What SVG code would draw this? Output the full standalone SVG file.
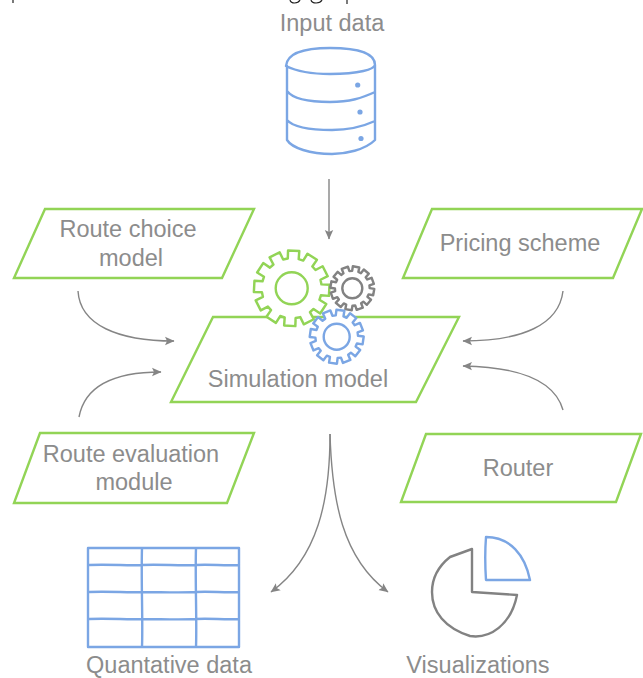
<svg xmlns="http://www.w3.org/2000/svg" width="643" height="678" viewBox="0 0 643 678">
  <style>
    text { font-family: "Liberation Sans", Arial, sans-serif; font-size: 23.5px; fill: #8c8c8c; text-anchor: middle; }
    .box { fill: #ffffff; stroke: #92d456; stroke-width: 2.4; }
    .blue { fill: none; stroke: #7ba6e4; stroke-width: 2.4; stroke-linejoin: round; stroke-linecap: round; }
    .gray { fill: none; stroke: #828282; stroke-width: 2.4; stroke-linejoin: round; }
    .conn { fill: none; stroke: #858585; stroke-width: 1.4; marker-end: url(#arrow); }
    .gear { stroke-linejoin: round; fill: #ffffff; }
    .hole { stroke-width: 2.4; fill: none; }
    .crop { fill: none; stroke: #222222; stroke-width: 1.2; }
  </style>
  <defs>
    <marker id="arrow" markerUnits="userSpaceOnUse" markerWidth="11" markerHeight="10" refX="9" refY="5" orient="auto">
      <path d="M0 0.8L9.5 5L0 9.2L2 5Z" fill="#858585"/>
    </marker>
    <path id="gearShape" d="M77.7 -14.4L98.9 -14.8L98.9 14.8L77.7 14.4L74.5 26.4L93 36.7L78.3 62.3L60.1 51.3L51.3 60.1L62.3 78.3L36.7 93L26.4 74.5L14.4 77.7L14.8 98.9L-14.8 98.9L-14.4 77.7L-26.4 74.5L-36.7 93L-62.3 78.3L-51.3 60.1L-60.1 51.3L-78.3 62.3L-93 36.7L-74.5 26.4L-77.7 14.4L-98.9 14.8L-98.9 -14.8L-77.7 -14.4L-74.5 -26.4L-93 -36.7L-78.3 -62.3L-60.1 -51.3L-51.3 -60.1L-62.3 -78.3L-36.7 -93L-26.4 -74.5L-14.4 -77.7L-14.8 -98.9L14.8 -98.9L14.4 -77.7L26.4 -74.5L36.7 -93L62.3 -78.3L51.3 -60.1L60.1 -51.3L78.3 -62.3L93 -36.7L74.5 -26.4Z"/>
  </defs>

  <g id="cropped-line">
    <path class="crop" d="M13 0V3M290 0C291 4 298 4 300 0M311 0C312 4 320 4 322 0M347 0V4"/>
  </g>

  <g id="connectors">
    <path class="conn" d="M329 179V239"/>
    <path class="conn" d="M78 291C80 325 118 341 174 341"/>
    <path class="conn" d="M563 291C559 325 522 341 463 341"/>
    <path class="conn" d="M79 417C85 385 115 372 161 372"/>
    <path class="conn" d="M563 410C555 382 522 367 463 366"/>
    <path class="conn" d="M330 434C330 500 318 558 271 592"/>
    <path class="conn" d="M330 434C332 500 342 558 388 592"/>
  </g>

  <g id="input-data">
    <text x="332" y="31">Input data</text>
    <path class="blue" d="M286 66C287 54 302 48 330 48C358 48 375 53 375 65C374 69 360 74 330 74C312 74 296 71 286 66ZM287 66V140C292 148 310 154 332 154C345 154 365 150 375 140V65M287 91C293 99 308 102 330 102C350 102 362 98 375 92M287 120C293 127 310 130 332 130C350 130 364 126 375 121"/>
    <circle cx="357.7" cy="85" r="2.6" fill="#7ba6e4"/>
    <circle cx="360" cy="112" r="2.6" fill="#7ba6e4"/>
    <circle cx="361" cy="138.500" r="2.6" fill="#7ba6e4"/>
  </g>

  <g id="route-choice-model">
    <path class="box" d="M45 209H254L222 278H14Z"/>
    <text x="128" y="237">Route choice</text>
    <text x="131" y="266">model</text>
  </g>
  <g id="pricing-scheme">
    <path class="box" d="M432 209H642L613 278H403Z"/>
    <text x="520" y="251">Pricing scheme</text>
  </g>
  <g id="simulation-model">
    <path class="box" d="M213 317H459L416 402H171Z"/>
    <text x="298" y="387">Simulation model</text>
  </g>
  <g id="gear-green">
    <use href="#gearShape" class="gear" stroke="#92d456" stroke-width="6.5" transform="translate(291.700 288.300) rotate(3) scale(0.38)"/>
    <circle class="hole" stroke="#92d456" cx="291.700" cy="288.300" r="16"/>
  </g>
  <g id="gear-gray">
    <use href="#gearShape" class="gear" stroke="#828282" stroke-width="11" transform="translate(352.300 288.300) rotate(10) scale(0.22)"/>
    <circle class="hole" stroke="#828282" cx="352.300" cy="288.300" r="10"/>
  </g>
  <g id="gear-blue">
    <use href="#gearShape" class="gear" stroke="#7ba6e4" stroke-width="9" transform="translate(336.700 336.700) rotate(8) scale(0.27)"/>
    <circle class="hole" stroke="#7ba6e4" cx="336.700" cy="336.700" r="13"/>
  </g>
  <g id="route-evaluation-module">
    <path class="box" d="M40 433H254L227 503H14Z"/>
    <text x="131" y="462">Route evaluation</text>
    <text x="134" y="490">module</text>
  </g>
  <g id="router">
    <path class="box" d="M426 434H641L616 502H401Z"/>
    <text x="518" y="476">Router</text>
  </g>

  <g id="quantative-data">
    <path class="blue" d="M88 548H239V647H88ZM89 565C110 564 130 566 142 565C160 564 180 566 196 565C210 564 225 566 238 565M89 592C110 591 130 593 142 592C160 592 180 593 196 592C210 591 225 593 239 592M89 619C110 618 130 620 142 619C160 619 180 620 196 619C210 618 225 620 239 619M142 548C141 580 143 620 142 647M196 548C195 580 197 620 196 647"/>
    <text x="169" y="672.500">Quantative data</text>
  </g>
  <g id="visualizations">
    <path class="blue" d="M486 537C510 537 525 555 530 580H486C485 565 485 550 486 537Z"/>
    <path class="gray" d="M472 549L450 557C440 565 432 577 432 592C432 612 445 628 470 636C490 639 511 625 517 595L472 592Z"/>
    <text x="478" y="672.500">Visualizations</text>
  </g>
</svg>
